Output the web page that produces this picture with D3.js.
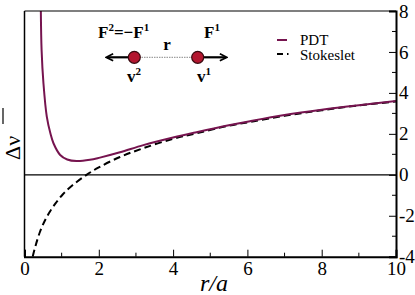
<!DOCTYPE html>
<html>
<head>
<meta charset="utf-8">
<script src="https://cdn.jsdelivr.net/npm/d3@7"></script>
<style>
  body { margin: 0; background: #fff; }
  svg { display: block; }
</style>
</head>
<body>
<svg id="chart" width="415" height="295"></svg>
<script>
// values
const stokesR = [0.22, 0.3, 0.42, 0.55, 0.69, 0.85, 1.04, 1.3, 1.67, 2.0, 2.57, 3.2, 4.0, 4.63, 5.5, 6.07, 7.0, 8.0, 9.0, 10.0]
const stokesV = [-4.0, -3.45, -2.77, -2.23, -1.78, -1.36, -0.94, -0.5, 0.0, 0.36, 0.87, 1.3, 1.76, 2.03, 2.4, 2.58, 2.88, 3.15, 3.39, 3.58]
const pdtR = [0.44, 0.46, 0.51, 0.6, 0.7, 0.78, 0.96, 1.15, 1.4, 1.76, 2.03, 2.57, 3.2, 4.0, 4.63, 5.5, 6.07, 7.0, 8.0, 9.0, 10.0]
const pdtV = [8.0, 6.1, 4.47, 2.84, 2.0, 1.54, 0.97, 0.75, 0.67, 0.73, 0.84, 1.1, 1.45, 1.82, 2.08, 2.42, 2.62, 2.92, 3.18, 3.4, 3.6]
const xTicks = [0, 2, 4, 6, 8, 10]
const xMinor = [1, 3, 5, 7, 9]
const yTicks = [8, 6, 4, 2, 0, -2, -4]
const yMinor = [7, 5, 3, 1, -1, -3]
const legendNames = ['PDT', 'Stokeslet']

const plotLeft = 24.5
const plotRight = 396
const plotTop = 11
const plotBottom = 256.7
const serif = 'Liberation Serif'

const svg = d3.select('#chart')
const x = d3.scaleLinear().domain([0, 10]).range([plotLeft, plotRight])
const y = d3.scaleLinear().domain([-4, 8]).range([plotBottom, plotTop])

// clip curves to the plot box
svg.append('clipPath').attr('id', 'clip')
  .append('rect')
  .attr('x', plotLeft).attr('y', plotTop)
  .attr('width', plotRight - plotLeft).attr('height', plotBottom - plotTop)

// zero line
svg.append('line')
  .attr('x1', plotLeft).attr('x2', plotRight)
  .attr('y1', y(0)).attr('y2', y(0))
  .attr('stroke', '#000').attr('stroke-width', 1.2)

const line = d3.line()
  .x(d => x(d[0]))
  .y(d => y(d[1]))
  .curve(d3.curveCatmullRom)

const curves = svg.append('g').attr('clip-path', 'url(#clip)')

curves.append('path')
  .attr('d', line(stokesR.map((r, i) => [r, stokesV[i]])))
  .attr('fill', 'none')
  .attr('stroke', '#000')
  .attr('stroke-width', 2)
  .attr('stroke-dasharray', '7,4')

curves.append('path')
  .attr('d', line(pdtR.map((r, i) => [r, pdtV[i]])))
  .attr('fill', 'none')
  .attr('stroke', '#76144f')
  .attr('stroke-width', 2)

// frame: thin top/left, heavier bottom/right
svg.append('line').attr('x1', plotLeft).attr('x2', plotRight).attr('y1', plotTop).attr('y2', plotTop)
  .attr('stroke', '#000').attr('stroke-width', 1.2)
svg.append('line').attr('x1', plotLeft).attr('x2', plotLeft).attr('y1', plotTop).attr('y2', plotBottom)
  .attr('stroke', '#000').attr('stroke-width', 1.5)

// bottom axis, ticks pointing inward
const xAxis = svg.append('g').attr('transform', `translate(0,${plotBottom})`)
xAxis.call(d3.axisBottom(x).tickValues(xTicks).tickSize(-7).tickFormat(d3.format('d')))
xAxis.selectAll('.tick line').attr('stroke-width', 1)
xAxis.selectAll('.tick text')
  .attr('y', 5).attr('dy', '0.71em')
  .style('font-family', serif).style('font-size', '19px')
xAxis.select('.domain').attr('stroke-width', 2)
xAxis.selectAll('.minor')
  .data(xMinor)
  .enter()
  .append('line')
  .attr('class', 'minor')
  .attr('x1', d => x(d)).attr('x2', d => x(d))
  .attr('y1', 0).attr('y2', -4)
  .attr('stroke', '#000')

// right axis, ticks pointing inward
const yAxis = svg.append('g').attr('transform', `translate(${plotRight},0)`)
yAxis.call(d3.axisRight(y).tickValues(yTicks).tickSize(-7).tickFormat(d => d < 0 ? '-' + Math.abs(d) : d))
yAxis.selectAll('.tick line').attr('stroke-width', 1)
yAxis.selectAll('.tick text')
  .attr('x', 3).attr('dy', '0.32em')
  .style('font-family', serif).style('font-size', '19px')
yAxis.select('.domain').attr('stroke-width', 2)
yAxis.selectAll('.minor')
  .data(yMinor)
  .enter()
  .append('line')
  .attr('class', 'minor')
  .attr('y1', d => y(d)).attr('y2', d => y(d))
  .attr('x1', 0).attr('x2', -4)
  .attr('stroke', '#000')

// axis titles
svg.append('text')
  .attr('x', 214).attr('y', 291)
  .attr('text-anchor', 'middle')
  .style('font-family', serif).style('font-size', '24px')
  .style('font-style', 'italic')
  .text('r/a')

const yTitle = svg.append('g').attr('transform', 'translate(20,160) rotate(-90)')
yTitle.append('text')
  .attr('x', 0).attr('y', 0)
  .style('font-family', serif).style('font-size', '22px')
  .text('\u0394\u03BD')
yTitle.append('line')
  .attr('x1', 36).attr('x2', 52)
  .attr('y1', -17).attr('y2', -17)
  .attr('stroke', '#000').attr('stroke-width', 1.2)

// legend
const legend = svg.append('g')
legend.append('line')
  .attr('x1', 277).attr('x2', 287).attr('y1', 40).attr('y2', 40)
  .attr('stroke', '#76144f').attr('stroke-width', 2)
legend.append('line')
  .attr('x1', 277).attr('x2', 289).attr('y1', 54).attr('y2', 54)
  .attr('stroke', '#000').attr('stroke-width', 2).attr('stroke-dasharray', '6,4,1.5,10')
legend.selectAll('text.leg')
  .data(legendNames)
  .enter()
  .append('text')
  .attr('class', 'leg')
  .attr('x', 300)
  .attr('y', (d, i) => 45 + i * 14.5)
  .style('font-family', serif).style('font-size', '15px')
  .text(d => d)

// inset sketch of two particles
const inset = svg.append('g')
inset.append('defs').append('marker')
  .attr('id', 'head')
  .attr('viewBox', '0 0 10 10')
  .attr('refX', 8).attr('refY', 5)
  .attr('markerWidth', 4).attr('markerHeight', 4)
  .attr('orient', 'auto')
  .append('path')
  .attr('d', 'M1,1 L9,5 L1,9')
  .attr('fill', 'none').attr('stroke', '#000').attr('stroke-width', 2)

inset.append('line')
  .attr('x1', 134).attr('x2', 198).attr('y1', 57.3).attr('y2', 57.3)
  .attr('stroke', '#888').attr('stroke-width', 1).attr('stroke-dasharray', '1.5,1')
inset.append('line')
  .attr('x1', 134).attr('x2', 107).attr('y1', 57.3).attr('y2', 57.3)
  .attr('stroke', '#000').attr('stroke-width', 2.2).attr('marker-end', 'url(#head)')
inset.append('line')
  .attr('x1', 198).attr('x2', 226).attr('y1', 57.3).attr('y2', 57.3)
  .attr('stroke', '#000').attr('stroke-width', 2.2).attr('marker-end', 'url(#head)')
inset.selectAll('circle')
  .data([134.3, 197.7])
  .enter()
  .append('circle')
  .attr('cx', d => d).attr('cy', 57.3).attr('r', 6)
  .attr('fill', '#b3162f').attr('stroke', '#3a0a10').attr('stroke-width', 1.2)

const bold = (t, xx, yy, anchor) => inset.append('text')
  .attr('x', xx).attr('y', yy)
  .attr('text-anchor', anchor || 'start')
  .style('font-family', serif).style('font-size', '17px').style('font-weight', 'bold')
  .html(t)

bold('F<tspan font-size="11" dy="-7">2</tspan><tspan dy="7">=\u2212F</tspan><tspan font-size="11" dy="-7">1</tspan>', 98, 38)
bold('F<tspan font-size="11" dy="-7">1</tspan>', 204, 38)
bold('r', 167, 50, 'middle')
bold('v<tspan font-size="11" dy="-7">2</tspan>', 127, 82)
bold('v<tspan font-size="11" dy="-7">1</tspan>', 197, 82)
</script>
</body>
</html>
